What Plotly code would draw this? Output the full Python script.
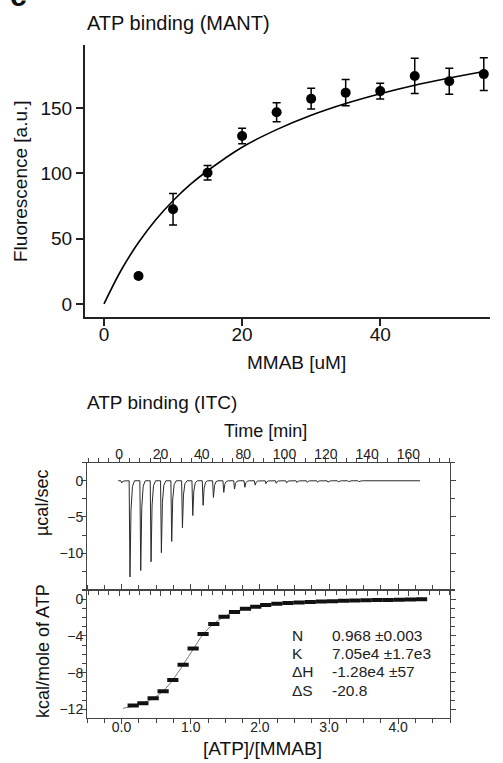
import plotly.graph_objects as go

W, H = 503, 763
FONT = "Liberation Sans, Arial, sans-serif"

# --- ATP binding (MANT) ---
mmab_conc = [5, 10, 15, 20, 25, 30, 35, 40, 45, 50, 55]
fluor = [21.4, 72.5, 100.5, 128.6, 146.8, 157.2, 161.8, 163.0, 174.6, 170.5, 176.0]
fluor_err = [1.5, 12, 5.5, 6, 7.2, 8, 10, 6, 13.5, 10, 12.5]
fit_conc = [0, 2.5, 5, 7.5, 10, 12.5, 15, 20, 25, 30, 35, 40, 45, 50, 55]
fit_fluor = [0, 26, 47, 64.5, 79, 91.5, 102, 120, 133.5, 144.5, 153.5, 161, 167.5, 173, 178]

# --- ATP binding (ITC), raw thermogram ---
inj_time = [0.8, 4.8, 10.0, 15.0, 20.0, 25.0, 30.2, 35.2, 40.2, 45.2, 50.2, 55.4, 60.4,
            65.4, 70.6, 75.6, 80.6, 85.6, 90.6, 95.6, 100.6, 105.6, 110.6, 115.6,
            120.6, 125.6, 130.6, 135.6, 140.6]
inj_peak = [-0.3, -13.3, -12.4, -11.2, -9.95, -8.4, -6.5, -4.8, -3.4, -2.3, -1.6, -1.15,
            -0.9, -0.6, -0.4, -0.35, -0.3, -0.25, -0.22, -0.2, -0.18, -0.15, -0.13,
            -0.12, -0.1, -0.1, -0.08, -0.08, -0.06]
time_ticks = [0, 20, 40, 60, 80, 100, 120, 140]
time_labels = ["0", "20", "40", "80", "100", "120", "140", "160"]

# --- integrated heats ---
molar_ratio = [0.168, 0.308, 0.457, 0.601, 0.741, 0.890, 1.035, 1.179, 1.334, 1.483,
               1.633, 1.792, 1.941, 2.085, 2.246, 2.407, 2.568, 2.729, 2.890, 3.051,
               3.212, 3.373, 3.534, 3.695, 3.856, 4.017, 4.178, 4.339]
heat = [-11.58, -11.33, -10.79, -10.02, -8.79, -7.15, -5.36, -3.79, -2.70, -1.90,
        -1.39, -1.03, -0.81, -0.62, -0.50, -0.42, -0.36, -0.30, -0.26, -0.22,
        -0.18, -0.15, -0.12, -0.10, -0.08, -0.06, -0.04, -0.02]
fit_ratio = [0.02, 0.17, 0.31, 0.46, 0.60, 0.74, 0.89, 1.04, 1.18, 1.33, 1.48, 1.63,
             1.79, 1.94, 2.09, 2.5, 3.0, 3.5, 4.0, 4.34]
fit_heat = [-11.88, -11.62, -11.30, -10.80, -10.00, -8.80, -7.15, -5.40, -3.80, -2.70,
            -1.92, -1.40, -1.04, -0.80, -0.62, -0.38, -0.22, -0.12, -0.05, -0.02]
stat_names = ["N", "K", "ΔH", "ΔS"]
stat_values = ["0.968 ±0.003", "7.05e4 ±1.7e3", "-1.28e4 ±57", "-20.8"]


def px_x(p):
    return p / W


def px_y(p):
    return 1 - p / H


# build the thermogram polyline from the injection peaks
tx, ty = [-0.5], [0]
for t, p in zip(inj_time, inj_peak):
    tx += [t, t + 0.4, t + 0.9, t + 1.6, t + 2.6]
    ty += [0, p, 0.3 * p, 0.06 * p, 0]
tx.append(145.6)
ty.append(0)

fig = go.Figure()

fig.add_trace(go.Scatter(x=fit_conc, y=fit_fluor, mode="lines", line_shape="spline",
                         line=dict(color="black", width=1.6), xaxis="x", yaxis="y"))
fig.add_trace(go.Scatter(x=mmab_conc, y=fluor, mode="markers",
                         marker=dict(color="black", size=10),
                         error_y=dict(type="data", array=fluor_err, color="black",
                                      thickness=1.5, width=4),
                         xaxis="x", yaxis="y"))

fig.add_trace(go.Scatter(x=tx, y=ty, mode="lines", line=dict(color="#2a2a2a", width=1),
                         xaxis="x2", yaxis="y2"))

fig.add_trace(go.Scatter(x=fit_ratio, y=fit_heat, mode="lines", line_shape="spline",
                         line=dict(color="#777", width=1), xaxis="x3", yaxis="y3"))
fig.add_trace(go.Scatter(x=molar_ratio, y=heat, mode="markers",
                         marker=dict(symbol="line-ew", size=8,
                                     line=dict(color="#111", width=4)),
                         xaxis="x3", yaxis="y3"))

mant_axis = dict(showline=True, linewidth=2, linecolor="#222", ticks="outside",
                 ticklen=7, tickwidth=2, tickcolor="#222", showgrid=False,
                 zeroline=False, tickfont=dict(size=19, color="#111"))
itc_axis = dict(showline=True, linewidth=1, linecolor="#444", ticks="outside",
                ticklen=5, tickwidth=1, tickcolor="#444", showgrid=False,
                zeroline=False, mirror="ticks", tickfont=dict(size=14, color="#222"))

fig.update_layout(
    width=W, height=H, margin=dict(l=0, r=0, t=0, b=0),
    paper_bgcolor="white", plot_bgcolor="white", showlegend=False,
    font=dict(family=FONT, color="#111"),
    xaxis=dict(mant_axis, domain=[px_x(85), px_x(490)], range=[-2.75, 55.9],
               tickvals=[0, 20, 40], anchor="y", ticklabelstandoff=-8),
    yaxis=dict(mant_axis, domain=[px_y(317), px_y(45)], range=[-10, 198.3],
               tickvals=[0, 50, 100, 150], anchor="x"),
    xaxis2=dict(itc_axis, domain=[px_x(87), px_x(450)], range=[-15.6, 160.1],
                side="top", tickvals=time_ticks, ticktext=time_labels, anchor="y2",
                ticklabelstandoff=-8,
                minor=dict(dtick=5, tick0=0, ticklen=4, ticks="outside", tickcolor="#444")),
    yaxis2=dict(itc_axis, domain=[px_y(590), px_y(462.7)], range=[-15.1, 2.5],
                tickvals=[0, -5, -10], anchor="x2", ticklabelstandoff=-5,
                minor=dict(dtick=2.5, tick0=0, ticklen=4, ticks="outside", tickcolor="#444")),
    xaxis3=dict(itc_axis, domain=[px_x(87), px_x(450)], range=[-0.5, 4.75],
                tickvals=[0, 1, 2, 3, 4], ticktext=["0.0", "1.0", "2.0", "3.0", "4.0"],
                anchor="y3", ticklabelstandoff=-9,
                minor=dict(dtick=0.25, tick0=0, ticklen=4, ticks="outside", tickcolor="#444")),
    yaxis3=dict(itc_axis, domain=[px_y(717.7), px_y(590)], range=[-12.9, 1.0],
                tickvals=[0, -4, -8, -12], anchor="x3", ticklabelstandoff=-5,
                minor=dict(dtick=1, tick0=0, ticklen=4, ticks="outside", tickcolor="#444")),
)

texts = [
    ("c", 8, 14, 30, 0, "left", "bottom"),
    ("ATP binding (MANT)", 85, 23, 20, 0, "left", "middle"),
    ("Fluorescence [a.u.]", 20, 181, 19, -90, "center", "middle"),
    ("MMAB [uM]", 296, 362, 19, 0, "center", "middle"),
    ("ATP binding (ITC)", 85, 402, 19, 0, "left", "middle"),
    ("Time [min]", 265, 431, 18, 0, "center", "middle"),
    ("µcal/sec", 42, 503, 18, -90, "center", "middle"),
    ("kcal/mole of ATP", 43, 651, 18, -90, "center", "middle"),
    ("[ATP]/[MMAB]", 262.5, 748, 19, 0, "center", "middle"),
]
for txt, x, y, size, angle, xa, ya in texts:
    label = "<b>" + txt + "</b>" if txt == "c" else txt
    fig.add_annotation(text=label, x=px_x(x), y=px_y(y), xref="paper", yref="paper",
                       showarrow=False, textangle=angle, xanchor=xa, yanchor=ya,
                       font=dict(size=size, family=FONT, color="#111"))

rows_y = [635, 653.3, 671.7, 690]
for name, val, y in zip(stat_names, stat_values, rows_y):
    fig.add_annotation(text=name, x=px_x(290), y=px_y(y), xref="paper", yref="paper",
                       showarrow=False, xanchor="left", yanchor="middle",
                       font=dict(size=15.5, family=FONT, color="#222"))
    fig.add_annotation(text=val, x=px_x(330), y=px_y(y), xref="paper", yref="paper",
                       showarrow=False, xanchor="left", yanchor="middle",
                       font=dict(size=15.5, family=FONT, color="#222"))

# page body has a default margin; drop it so the figure sits at the window's corner
fig.write_html("out.html", config={"displayModeBar": False},
               post_script="document.body.style.margin = '0';")
